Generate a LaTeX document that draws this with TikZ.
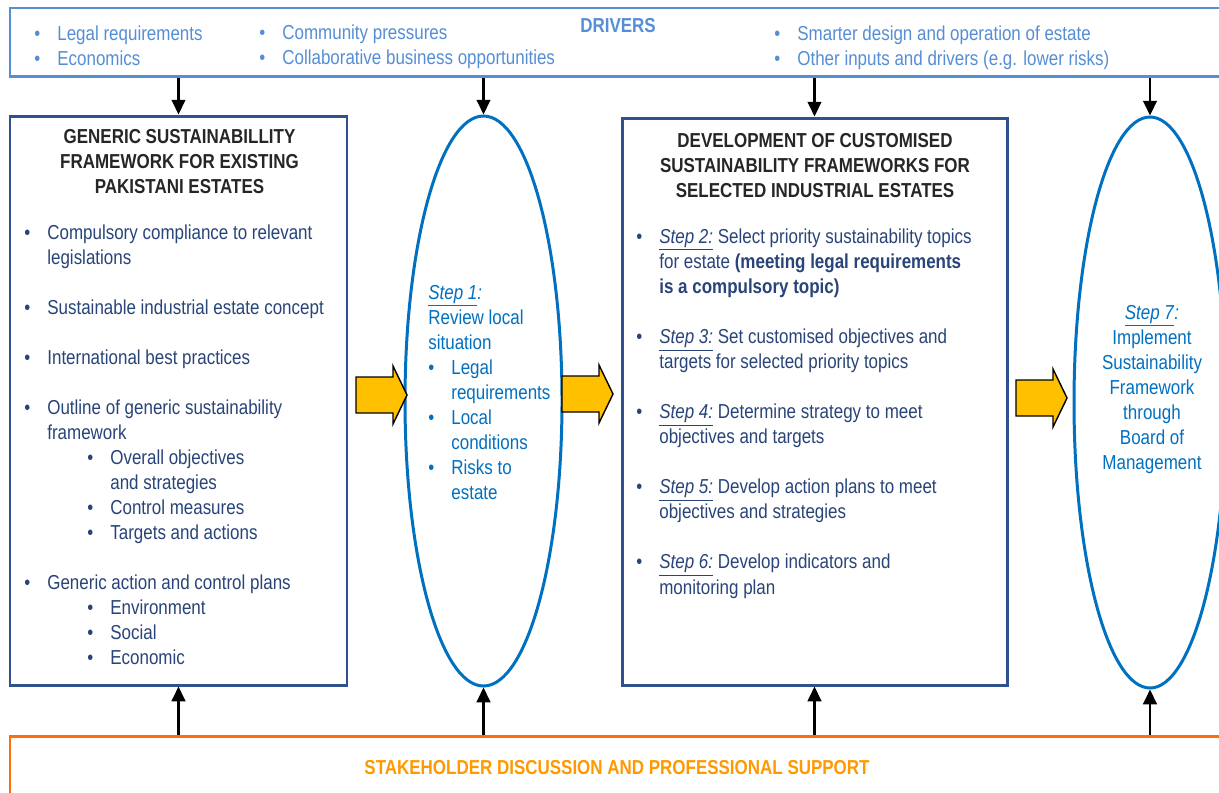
\documentclass[tikz,border=0pt]{standalone}
\usepackage{fontspec}
\setmainfont[FakeStretch=0.84]{Liberation Sans}
\usetikzlibrary{positioning,shapes.geometric,arrows.meta,calc}

\definecolor{drvblue}{RGB}{85,142,213}
\definecolor{boxblue}{RGB}{47,82,143}
\definecolor{boxtext}{RGB}{40,68,120}
\definecolor{ttlgray}{RGB}{38,38,38}
\definecolor{ellblue}{RGB}{0,112,192}
\definecolor{arrowyellow}{RGB}{255,192,0}
\definecolor{stkorange}{RGB}{255,108,10}
\definecolor{stktext}{RGB}{255,153,0}

\newdimen\pxu \pxu=0.02cm
\newcommand\bul{\makebox[23\pxu][l]{\textbullet}}
\newcommand\ind{\hspace*{23\pxu}}
\newcommand\sbul{\hspace*{40\pxu}\makebox[23\pxu][l]{\textbullet}}
\newcommand\sind{\hspace*{63\pxu}}
\newcommand\steplab[1]{\underline{\textit{Step #1:}}}
\newcommand\lst[1]{\begin{tabular}[t]{@{}l@{}}#1\end{tabular}}
\newcommand\ctr[1]{\begin{tabular}[t]{@{}c@{}}#1\end{tabular}}
\newcommand\yarrow[1]{\draw[blk] (#1) ++(0,-18) -- ++(37,0) -- ++(0,-11) -- ++(14,29) -- ++(-14,29) -- ++(0,-11) -- ++(-37,0) -- cycle;}

\begin{document}
\begin{tikzpicture}[x=0.02cm,y=-0.02cm,
  every node/.style={font=\fontsize{11.5}{14.23}\selectfont,inner sep=0pt},
  frame/.style={draw=boxblue,line width=1.7pt},
  ell/.style={ellipse,draw=ellblue,line width=1.7pt},
  txt/.style={anchor=base west,text=boxtext},
  ttl/.style={anchor=base,text=ttlgray,font=\fontsize{11.5}{14.23}\selectfont\bfseries},
  blk/.style={fill=arrowyellow,draw=black,line width=0.8pt},
  conn/.style={line width=1.2pt,-{Triangle[length=8.4pt,width=7.8pt]}}]
    \useasboundingbox (0,0) rectangle (1219,792);
    \fill[white] (0,0) rectangle (1219,792);
    \clip (0,0) rectangle (1219,792);

    \node[draw=drvblue,line width=1.7pt,minimum width=1222\pxu,minimum height=68\pxu] (drivers) at (621,42) {};
    \node[frame,minimum width=337\pxu,minimum height=569\pxu] (generic) at (178.5,400.5) {};
    \node[ell,minimum width=157\pxu,minimum height=570\pxu] (step1) at (483.5,401) {};
    \node[frame,minimum width=385\pxu,minimum height=567\pxu] (custom) at (814.5,401.5) {};
    \node[ell,minimum width=152\pxu,minimum height=571\pxu] (step7) at (1150,402.5) {};
    \node[draw=stkorange,line width=1.7pt,minimum width=1222\pxu,minimum height=100\pxu] (stake) at (621,786) {};

    \foreach \n in {generic,step1,custom,step7}{
      \draw[conn] (drivers.south -| \n.north) -- (\n.north);
      \draw[conn] (stake.north -| \n.south) -- (\n.south);
    }

    \yarrow{356,395}
    \yarrow{562,394}
    \yarrow{1016,398}

    \node[anchor=base,text=drvblue,font=\fontsize{11.5}{14.23}\selectfont\bfseries] (drvtitle) at (618,32) {DRIVERS};
    \node[anchor=base west,text=drvblue] (drv1) at (34,40) {\lst{\bul Legal requirements\\ \bul Economics}};
    \node[anchor=base west,text=drvblue] (drv2) at (259,39) {\lst{\bul Community pressures\\ \bul Collaborative business opportunities}};
    \node[anchor=base west,text=drvblue] (drv3) at (774,40) {\lst{\bul Smarter design and operation of estate\\ \bul Other inputs and drivers (e.g. lower risks)}};

    \node[ttl] (gentitle) at (179.5,143) {\ctr{GENERIC SUSTAINABILLITY\\FRAMEWORK FOR EXISTING\\PAKISTANI ESTATES}};
    \node[txt] (genlist) at (24,239) {\lst{
      \bul Compulsory compliance to relevant\\
      \ind legislations\\ \\
      \bul Sustainable industrial estate concept\\ \\
      \bul International best practices\\ \\
      \bul Outline of generic sustainability\\
      \ind framework\\
      \ind\sbul Overall objectives\\
      \ind\sind and strategies\\
      \ind\sbul Control measures\\
      \ind\sbul Targets and actions\\ \\
      \bul Generic action and control plans\\
      \ind\sbul Environment\\
      \ind\sbul Social\\
      \ind\sbul Economic}};

    \node[anchor=base west,text=ellblue] (step1txt) at (428,299) {\lst{
      \underline{\textit{Step 1}}\textit{:}\\
      Review local\\
      situation\\
      \bul Legal\\
      \ind requirements\\
      \bul Local\\
      \ind conditions\\
      \bul Risks to\\
      \ind estate}};

    \node[ttl] (custtitle) at (815,147) {\ctr{DEVELOPMENT OF CUSTOMISED\\SUSTAINABILITY FRAMEWORKS FOR\\SELECTED INDUSTRIAL ESTATES}};
    \node[txt] (custlist) at (636,243) {\lst{
      \bul\steplab{2} Select priority sustainability topics\\
      \ind for estate \textbf{(meeting legal requirements}\\
      \ind\textbf{is a compulsory topic)}\\ \\
      \bul\steplab{3} Set customised objectives and\\
      \ind targets for selected priority topics\\ \\
      \bul\steplab{4} Determine strategy to meet\\
      \ind objectives and targets\\ \\
      \bul\steplab{5} Develop action plans to meet\\
      \ind objectives and strategies\\ \\
      \bul\steplab{6} Develop indicators and\\
      \ind monitoring plan}};

    \node[anchor=base,text=ellblue] (step7txt) at (1152,319) {\ctr{
      \underline{\textit{Step 7}}\textit{:}\\
      Implement\\
      Sustainability\\
      Framework\\
      through\\
      Board of\\
      Management}};

    \node[anchor=base,text=stktext,font=\fontsize{11.5}{14.23}\selectfont\bfseries] (staketxt) at (617,774) {STAKEHOLDER DISCUSSION AND PROFESSIONAL SUPPORT};
\end{tikzpicture}
\end{document}
